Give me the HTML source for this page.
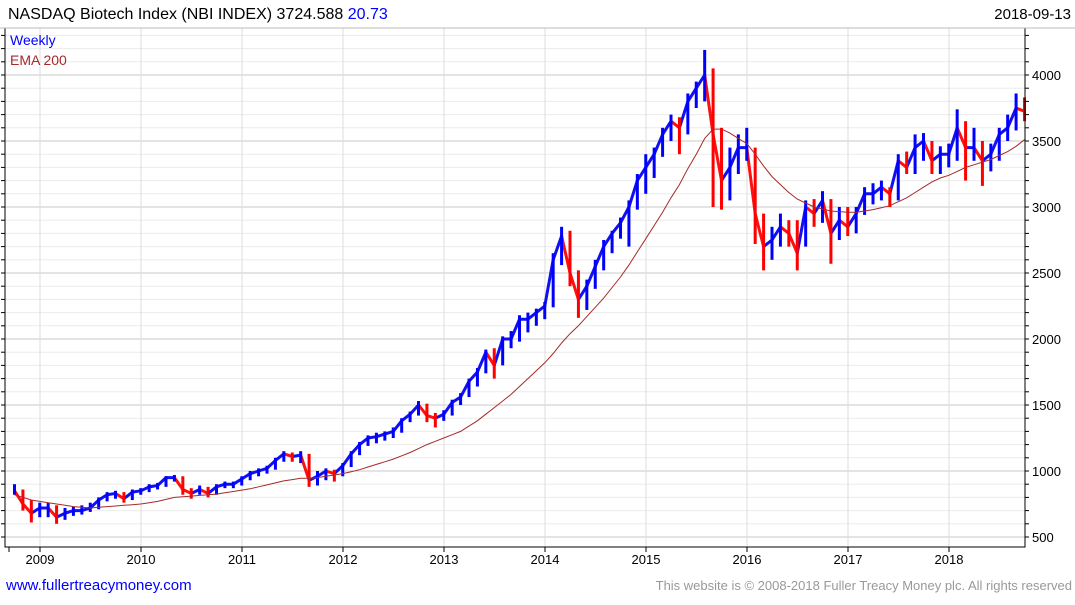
<!DOCTYPE html>
<html><head><meta charset="utf-8"><style>
body{margin:0;background:#fff;width:1075px;height:600px;overflow:hidden;font-family:"Liberation Sans",sans-serif}
svg text{font-family:"Liberation Sans",sans-serif}
</style></head><body>
<svg id="c" width="1075" height="600">
<text x="8" y="19" font-size="16" fill="#000">NASDAQ Biotech Index (NBI INDEX) 3724.588 <tspan fill="#0000ff">20.73</tspan></text>
<text x="1071" y="19" font-size="15" text-anchor="end" fill="#000">2018-09-13</text>
<g id="grid"></g>
<g id="closeSegs"></g>
<g id="bars"></g>
<path id="ema" fill="none" stroke="#a52a2a" stroke-width="1"></path>
<g id="axes"></g>
<text x="10" y="45" font-size="14" fill="#0000ff">Weekly</text>
<text x="10" y="65" font-size="14" fill="#a52a2a">EMA 200</text>
<text x="6" y="590" font-size="15" fill="#0000ff">www.fullertreacymoney.com</text>
<text x="1072" y="590" font-size="13" fill="#999" text-anchor="end">This website is © 2008-2018 Fuller Treacy Money plc. All rights reserved</text>
</svg>
<script>
const startYear = 2008.708;
const closes = [850,750,680,720,
720,650,680,700,700,720,780,820,830,790,840,850,
880,890,950,950,860,830,860,830,880,900,900,940,
980,1000,1020,1080,1130,1110,1120,930,960,1000,980,1040,
1130,1200,1250,1260,1280,1300,1380,1430,1500,1420,1400,1430,
1520,1560,1680,1750,1900,1800,2000,2000,2150,2150,2200,2250,
2600,2780,2500,2300,2400,2550,2700,2800,2880,3000,3200,3300,
3400,3550,3650,3600,3800,3900,4000,3550,3200,3300,3450,3450,
2950,2700,2750,2850,2800,2650,3000,2950,3050,2800,2900,2850,
2950,3100,3100,3150,3100,3350,3300,3450,3500,3350,3400,3400,
3600,3450,3450,3350,3400,3550,3600,3750,3725];
const highs = [900,860,780,760,
760,740,720,730,740,760,800,840,850,840,860,870,
900,910,960,970,960,870,890,880,900,920,920,960,
1000,1020,1040,1100,1150,1140,1150,1130,1000,1020,1010,1060,
1150,1220,1270,1290,1300,1330,1400,1450,1530,1510,1440,1460,
1540,1590,1700,1780,1920,1930,2020,2060,2180,2200,2230,2280,
2650,2850,2820,2520,2450,2600,2750,2820,2920,3050,3250,3400,
3450,3600,3700,3680,3860,3950,4190,4050,3600,3450,3550,3600,
3450,2950,2850,2950,2900,2900,3050,3060,3120,3060,3000,3000,
3000,3150,3180,3200,3150,3400,3420,3550,3560,3500,3460,3480,
3740,3650,3600,3500,3480,3600,3700,3860,3830];
const lows = [820,700,610,650,
650,600,630,660,670,690,710,770,790,760,780,820,
840,860,880,920,820,790,820,800,820,870,870,890,
930,960,980,1010,1070,1070,1060,880,890,930,920,960,
1030,1120,1190,1210,1230,1250,1290,1370,1420,1370,1330,1380,
1420,1500,1560,1640,1740,1700,1800,1930,1980,2050,2100,2150,
2240,2560,2400,2160,2220,2380,2520,2650,2760,2700,2980,3100,
3220,3380,3500,3400,3550,3750,3800,3000,2980,3050,3250,3350,
2720,2520,2600,2700,2700,2520,2700,2850,2880,2570,2750,2780,
2800,2940,3020,3050,3000,3050,3250,3250,3350,3250,3250,3300,
3350,3200,3350,3160,3270,3350,3500,3580,3650];
const ema = [820,800,780,770,
760,750,740,730,725,720,725,730,735,740,745,750,
760,770,785,800,805,810,815,820,825,835,845,855,
865,880,895,910,925,935,945,945,950,960,970,980,
995,1010,1030,1050,1070,1090,1115,1140,1170,1200,1225,1250,
1275,1300,1340,1380,1430,1480,1530,1580,1640,1700,1760,1820,
1890,1970,2040,2100,2170,2240,2310,2390,2470,2560,2660,2760,
2860,2960,3070,3170,3290,3400,3520,3590,3590,3560,3520,3480,
3400,3310,3230,3170,3110,3060,3030,3000,2985,2970,2965,2960,
2960,2970,2980,2995,3010,3040,3070,3110,3150,3190,3220,3240,
3270,3300,3320,3340,3360,3390,3420,3460,3510];
const years = [2009,2010,2011,2012,2013,2014,2015,2016,2017,2018];
const yTicks = [500,1000,1500,2000,2500,3000,3500,4000];

const NS='http://www.w3.org/2000/svg';
const PL=5,PR=1025,PT=28,PB=547;
const xs = t => 40 + (t-2009)*101;
const ys = v => 537 - (v-500)*66/500;
function mk(tag,attrs,parent){const e=document.createElementNS(NS,tag);for(const k in attrs)e.setAttribute(k,attrs[k]);parent.appendChild(e);return e;}
const gridG=document.getElementById('grid'),axesG=document.getElementById('axes'),barsG=document.getElementById('bars'),segG=document.getElementById('closeSegs');
for(let v=500;v<=4300;v+=100){const y=ys(v);if(y<PT)continue;
  const ln=mk('line',{x1:PL,x2:PR,y1:y,y2:y,stroke:v%500===0?'#c8c8c8':'#ececec','stroke-width':1},gridG);
  
  
  const tk=mk('line',{x1:PR,x2:PR+4,y1:y,y2:y,stroke:'#000'},axesG);
  
  
  const tl=mk('line',{x1:PL-4,x2:PL,y1:y,y2:y,stroke:'#000'},axesG);
  
  
}
yTicks.forEach(v=>{const t=mk('text',{x:1032,y:ys(v)+5,'font-size':13,fill:'#000'},axesG);t.textContent=v;
  
  });
years.forEach(yr=>{const x=xs(yr);
  const g=mk('line',{x1:x,x2:x,y1:PT,y2:PB,stroke:'#dcdcdc'},gridG);
  
  
  const tk=mk('line',{x1:x,x2:x,y1:PB,y2:PB+5,stroke:'#000'},axesG);
  
  
  const t=mk('text',{x:x,y:564,'font-size':13,'text-anchor':'middle',fill:'#000'},axesG);t.textContent=yr;
  
  });
const st=mk('line',{x1:9,x2:9,y1:PB,y2:PB+5,stroke:'#000'},axesG);


const frame=mk('path',{d:`M${PL},${PT}V${PB}H${PR}V${PT}`,fill:'none',stroke:'#000','stroke-width':1},axesG);


const topLine=mk('line',{x1:0,x2:1075,y1:PT,y2:PT,stroke:'#bbb'},axesG);


const bx = i => xs(startYear+i/12)+4;
for(let i=1;i<closes.length;i++){
  const col=closes[i]>=closes[i-1]?'#1010f0':'#ff1010';
  const s=mk('line',{x1:bx(i-1),y1:ys(closes[i-1]),x2:bx(i),y2:ys(closes[i]),stroke:col,'stroke-width':3,'stroke-linecap':'round'},segG);
  
  
}
closes.forEach((c,i)=>{const x=bx(i);
  const prev=i?closes[i-1]:c;const col=c>=prev?'#0000ff':'#ff0000';
  const r=mk('rect',{x:x-1.5,y:ys(highs[i]),width:3,height:Math.max(1,ys(lows[i])-ys(highs[i])),fill:col},barsG);
  
  });
document.getElementById('ema').setAttribute('d',ema.map((v,i)=>(i?'L':'M')+bx(i).toFixed(1)+','+ys(v).toFixed(1)).join(''));
</script>
</body></html>
